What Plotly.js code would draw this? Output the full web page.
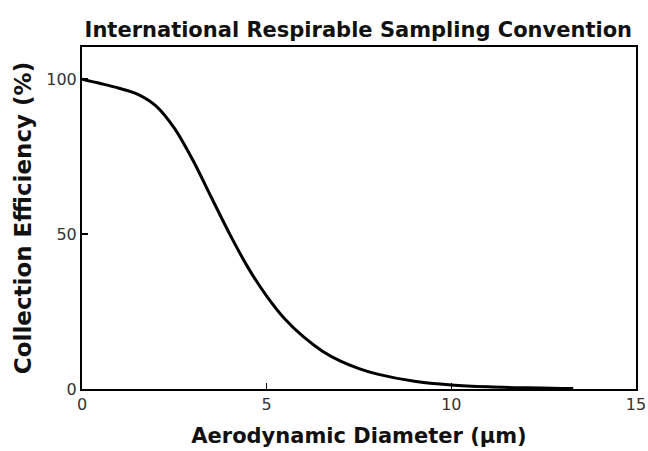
<!DOCTYPE html>
<html>
<head>
<meta charset="utf-8">
<script src="https://cdn.plot.ly/plotly-3.0.1.min.js"></script>
<style>html,body{margin:0;padding:0;background:#fff;}#chart{width:648px;height:451px;}</style>
</head>
<body>
<div id="chart"></div>
<script>
// Aerodynamic diameter (µm) and collection efficiency (%)
const diameter = [0, 0.5, 1, 1.5, 2, 2.5, 3, 3.5, 4, 4.5, 5, 5.5, 6, 6.5, 7, 7.5, 8, 9, 10, 11, 12, 13, 13.3];
const efficiency = [100, 98.6, 97.1, 95.2, 91.4, 84.2, 73.9, 61.9, 50.0, 39.1, 30.0, 22.5, 16.8, 12.3, 9.0, 6.6, 4.8, 2.5, 1.3, 0.7, 0.4, 0.2, 0.18];
const xTicks = [0, 5, 10, 15];
const yTicks = [0, 50, 100];

const fontFam = 'DejaVu Sans, Verdana, sans-serif';
const trace = {
  x: diameter, y: efficiency, type: 'scatter', mode: 'lines',
  line: {color: '#000', width: 3, shape: 'spline', smoothing: 0.8},
  hoverinfo: 'none'
};
const layout = {
  width: 648, height: 451,
  margin: {l: 82, r: 12, t: 47, b: 62},
  paper_bgcolor: '#fff', plot_bgcolor: '#fff',
  showlegend: false,
  title: {text: '<b>International Respirable Sampling Convention</b>', font: {family: fontFam, size: 21, color: '#111'},
          xref: 'container', x: 0.553, xanchor: 'center', yref: 'container', y: 0.935, yanchor: 'middle'},
  xaxis: {
    range: [0, 15], tickvals: xTicks, ticktext: xTicks.map(String),
    ticks: 'inside', ticklen: 6, tickwidth: 1.5, tickcolor: '#000',
    showline: true, linecolor: '#000', linewidth: 2, mirror: true,
    showgrid: false, zeroline: false,
    tickfont: {family: fontFam, size: 16, color: '#333'},
    title: {text: '<b>Aerodynamic Diameter (µm)</b>', font: {family: fontFam, size: 21, color: '#111'}, standoff: 15}
  },
  yaxis: {
    range: [0, 110.4], tickvals: yTicks, ticktext: yTicks.map(String),
    ticks: 'inside', ticklen: 6, tickwidth: 1.5, tickcolor: '#000',
    showline: true, linecolor: '#000', linewidth: 2, mirror: true,
    showgrid: false, zeroline: false,
    tickfont: {family: fontFam, size: 16, color: '#333'},
    title: {text: '<b>Collection Efficiency (%)</b>', font: {family: fontFam, size: 23, color: '#111'}, standoff: 8}
  }
};
Plotly.newPlot('chart', [trace], layout, {staticPlot: true, displayModeBar: false});
</script>
</body>
</html>
